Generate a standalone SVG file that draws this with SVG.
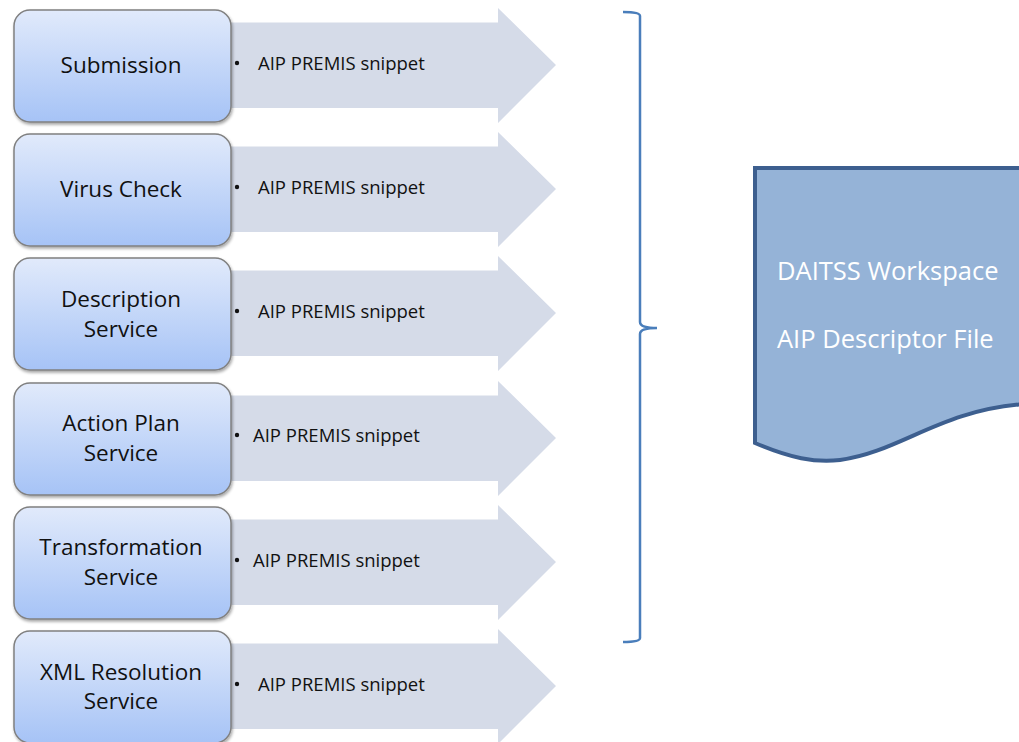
<svg xmlns="http://www.w3.org/2000/svg" width="1019" height="742" viewBox="0 0 1019 742">
<defs>
<linearGradient id="bg" x1="0" y1="0" x2="0" y2="1">
<stop offset="0" stop-color="#e1eafb"/>
<stop offset="1" stop-color="#a6c3f6"/>
</linearGradient>
<filter id="sh" x="-10%" y="-10%" width="125%" height="130%">
<feGaussianBlur in="SourceAlpha" stdDeviation="1.5"/>
<feOffset dx="1" dy="2"/>
<feComponentTransfer><feFuncA type="linear" slope="0.35"/></feComponentTransfer>
<feMerge><feMergeNode/><feMergeNode in="SourceGraphic"/></feMerge>
</filter>
<path id="arr" d="M0,12.5 H267 V-2 L325,55 L267,113 V98 H0 Z"/>
</defs>
<style>
.arrow{fill:#d5dbe8}
.box{fill:url(#bg);stroke:#808080;stroke-width:1.5;filter:url(#sh)}
.lbl{font-family:"Open Sans","Noto Sans",sans-serif;font-size:22.5px;fill:#111;text-anchor:middle}
.bul{font-family:"Open Sans","Noto Sans",sans-serif;font-size:18.5px;fill:#111}
.dot{fill:#111}
.doc{fill:#95b3d7;stroke:#3d5f8f;stroke-width:4}
.dt{font-family:"Open Sans","Noto Sans",sans-serif;font-size:25.5px;fill:#ffffff}
.br{fill:none;stroke:#4a7ebb;stroke-width:2.5}
</style>
<g id="connectors">
<use href="#arr" class="arrow" x="231" y="10"/>
<use href="#arr" class="arrow" x="231" y="134"/>
<use href="#arr" class="arrow" x="231" y="258"/>
<use href="#arr" class="arrow" x="231" y="383"/>
<use href="#arr" class="arrow" x="231" y="507"/>
<use href="#arr" class="arrow" x="231" y="631"/>
<g class="dot">
<circle cx="237" cy="63" r="2.2"/>
<circle cx="237" cy="187" r="2.2"/>
<circle cx="237" cy="311" r="2.2"/>
<circle cx="237" cy="435" r="2.2"/>
<circle cx="237" cy="560" r="2.2"/>
<circle cx="237" cy="684" r="2.2"/>
</g>
<g class="bul">
<text x="258" y="70">AIP PREMIS snippet</text>
<text x="258" y="194">AIP PREMIS snippet</text>
<text x="258" y="318">AIP PREMIS snippet</text>
<text x="253" y="442">AIP PREMIS snippet</text>
<text x="253" y="567">AIP PREMIS snippet</text>
<text x="258" y="691">AIP PREMIS snippet</text>
</g>
<path class="br" d="M623,12 Q640,12 640,16 V322 Q640,328 657,328 Q640,328 640,334 V638 Q640,642 623,642"/>
</g>
<g id="n1"><rect class="box" x="14" y="10" width="217" height="112" rx="16"/><text class="lbl" x="121" y="73">Submission</text></g>
<g id="n2"><rect class="box" x="14" y="134" width="217" height="112" rx="16"/><text class="lbl" x="121" y="197">Virus Check</text></g>
<g id="n3"><rect class="box" x="14" y="258" width="217" height="112" rx="16"/><text class="lbl" x="121" y="307">Description</text><text class="lbl" x="121" y="337">Service</text></g>
<g id="n4"><rect class="box" x="14" y="383" width="217" height="112" rx="16"/><text class="lbl" x="121" y="431">Action Plan</text><text class="lbl" x="121" y="461">Service</text></g>
<g id="n5"><rect class="box" x="14" y="507" width="217" height="112" rx="16"/><text class="lbl" x="121" y="555">Transformation</text><text class="lbl" x="121" y="585">Service</text></g>
<g id="n6"><rect class="box" x="14" y="631" width="217" height="112" rx="16"/><text class="lbl" x="121" y="680">XML Resolution</text><text class="lbl" x="121" y="709">Service</text></g>
<g id="doc">
<path class="doc" d="M1025,168 H755 V443 C790,458 815,463 840,460 C900,452 940,410 1025,404"/>
<text class="dt" x="777" y="280">DAITSS Workspace</text>
<text class="dt" x="777" y="348">AIP Descriptor File</text>
</g>
</svg>
